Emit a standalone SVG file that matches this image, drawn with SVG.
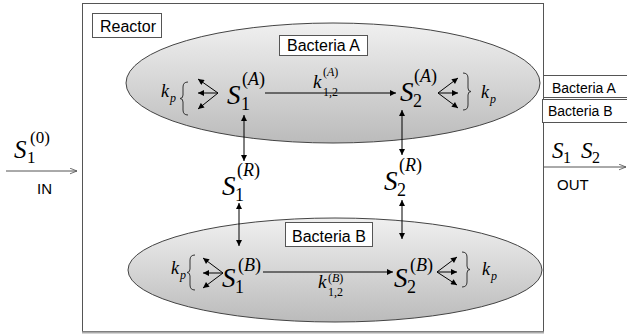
<svg xmlns="http://www.w3.org/2000/svg" width="627" height="336" viewBox="0 0 627 336">
<defs>
<linearGradient id="g" x1="0" y1="0" x2="0" y2="1">
<stop offset="0" stop-color="#f0f0f0"/>
<stop offset="1" stop-color="#bbbbbb"/>
</linearGradient>
<marker id="ah" viewBox="0 0 10 10" refX="10" refY="5" markerWidth="7" markerHeight="6" orient="auto-start-reverse" markerUnits="userSpaceOnUse">
<path d="M0,0 L10,5 L0,10 z" fill="#000"/>
</marker>
<marker id="oh" viewBox="0 0 10 10" refX="10" refY="5" markerWidth="8" markerHeight="7" orient="auto" markerUnits="userSpaceOnUse">
<path d="M0,1 L10,5 L0,9" fill="none" stroke="#555" stroke-width="1.2"/>
</marker>
</defs>
<style>
.lbl{font-family:"Liberation Sans",Arial,sans-serif;fill:#000}
.m{font-family:"Liberation Serif","Times New Roman",serif;font-style:italic;fill:#000}
.u{font-family:"Liberation Serif","Times New Roman",serif;font-style:normal;fill:#000}
.box{fill:#fff;stroke:#555;stroke-width:1}
.ell{fill:url(#g);stroke:#444;stroke-width:1}
.ar{stroke:#000;stroke-width:1;fill:none;marker-end:url(#ah)}
.dar{stroke:#000;stroke-width:1;fill:none;marker-end:url(#ah);marker-start:url(#ah)}
.br{fill:none;stroke:#333;stroke-width:1}
.io{stroke:#555;stroke-width:1;fill:none;marker-end:url(#oh)}
.S{font-size:27px}
.sb{font-size:18px}
.sp{font-size:18px}
</style>
<g id="reactor">
<rect x="82.5" y="3.5" width="461" height="328" fill="#fff" stroke="#555" stroke-width="1"/>
<line x1="82" y1="332.5" x2="544" y2="332.5" stroke="#aaa" stroke-width="2"/>
<rect class="box" x="92.5" y="13.5" width="69" height="24"/>
<text class="lbl" x="100" y="32" font-size="16">Reactor</text>
</g>
<g id="bacteriaA">
<ellipse class="ell" cx="333" cy="83" rx="207" ry="60"/>
<rect class="box" x="279.5" y="35.5" width="88" height="20"/>
<text class="lbl" x="287" y="50.5" font-size="16">Bacteria A</text>
</g>
<g id="bacteriaB">
<ellipse class="ell" cx="335" cy="270" rx="207" ry="52"/>
<rect class="box" x="285.5" y="222.5" width="87" height="24"/>
<text class="lbl" x="292" y="241.5" font-size="16">Bacteria B</text>
</g>
<g id="outLabels">
<path d="M543.5,75.5 H627 M543.5,97.5 H627" stroke="#555" fill="none"/>
<text class="lbl" x="552" y="93" font-size="14">Bacteria A</text>
<rect class="box" x="542.5" y="99.5" width="90" height="23"/>
<text class="lbl" x="548" y="116" font-size="14">Bacteria B</text>
</g>
<g id="connectors">
<line class="io" x1="6" y1="171" x2="77" y2="171"/>
<line class="io" x1="544" y1="167" x2="626" y2="167"/>
<line class="ar" x1="265" y1="93" x2="396" y2="93"/>
<line class="ar" x1="263" y1="272" x2="393" y2="272"/>
<line class="dar" x1="244" y1="115" x2="244" y2="161"/>
<line class="dar" x1="239" y1="203" x2="239" y2="246"/>
<line class="dar" x1="402" y1="110" x2="402" y2="155"/>
<line class="dar" x1="402" y1="200" x2="402" y2="239"/>
<line class="ar" x1="218" y1="93" x2="198" y2="79"/>
<line class="ar" x1="218" y1="93" x2="198" y2="93"/>
<line class="ar" x1="218" y1="93" x2="198" y2="109"/>
<line class="ar" x1="438" y1="93" x2="458" y2="78"/>
<line class="ar" x1="438" y1="93" x2="458" y2="93"/>
<line class="ar" x1="438" y1="93" x2="458" y2="108"/>
<line class="ar" x1="223" y1="273" x2="203" y2="258"/>
<line class="ar" x1="223" y1="273" x2="203" y2="273"/>
<line class="ar" x1="223" y1="273" x2="203" y2="288"/>
<line class="ar" x1="437" y1="272" x2="457" y2="257"/>
<line class="ar" x1="437" y1="272" x2="457" y2="272"/>
<line class="ar" x1="437" y1="272" x2="457" y2="285"/>
<path class="br" d="M188,82 Q183,82 183,87 L183,95 Q183,98.5 180,98.5 Q183,98.5 183,102 L183,110 Q183,115 188,115"/>
<path class="br" d="M463,73 Q468,73 468,78 L468,88 Q468,91.5 471,91.5 Q468,91.5 468,95 L468,105 Q468,110 463,110"/>
<path class="br" d="M195,255 Q190,255 190,260 L190,269 Q190,272.5 187,272.5 Q190,272.5 190,276 L190,285 Q190,290 195,290"/>
<path class="br" d="M462,252 Q467,252 467,257 L467,266 Q467,269.5 470,269.5 Q467,269.5 467,273 L467,282 Q467,287 462,287"/>
</g>
<g id="inLabel">
<text class="m" x="14" y="158" font-size="25">S</text>
<text class="u" x="27" y="163" font-size="17">1</text>
<text class="u" x="30" y="143" font-size="17">(0)</text>
<text class="lbl" x="37" y="194" font-size="15">IN</text>
</g>
<g id="outS">
<text class="m" x="552" y="158" font-size="23">S</text>
<text class="u" x="563" y="163" font-size="16">1</text>
<text class="m" x="581" y="158" font-size="23">S</text>
<text class="u" x="592" y="163" font-size="16">2</text>
<text class="lbl" x="557" y="190" font-size="15">OUT</text>
</g>
<g id="S1A">
<text class="m S" x="227" y="104">S</text>
<text class="u sb" x="241" y="110">1</text>
<text class="u sp" x="242" y="85">(<tspan class="m">A</tspan>)</text>
</g>
<g id="S2A">
<text class="m S" x="400" y="101">S</text>
<text class="u sb" x="413" y="107">2</text>
<text class="u sp" x="414" y="82">(<tspan class="m">A</tspan>)</text>
</g>
<g id="S1R">
<text class="m S" x="222" y="195">S</text>
<text class="u sb" x="235" y="201">1</text>
<text class="u sp" x="237" y="176">(<tspan class="m">R</tspan>)</text>
</g>
<g id="S2R">
<text class="m S" x="384" y="190">S</text>
<text class="u sb" x="397" y="196">2</text>
<text class="u sp" x="399" y="171">(<tspan class="m">R</tspan>)</text>
</g>
<g id="S1B">
<text class="m S" x="222" y="287">S</text>
<text class="u sb" x="235" y="293">1</text>
<text class="u sp" x="238" y="271">(<tspan class="m">B</tspan>)</text>
</g>
<g id="S2B">
<text class="m S" x="394" y="287">S</text>
<text class="u sb" x="407" y="293">2</text>
<text class="u sp" x="410" y="271">(<tspan class="m">B</tspan>)</text>
</g>
<g id="kpA1">
<text class="m" x="161" y="97" font-size="18">k</text>
<text class="m" x="170" y="102" font-size="12">p</text>
</g>
<g id="kpA2">
<text class="m" x="481" y="98" font-size="18">k</text>
<text class="m" x="490" y="103" font-size="12">p</text>
</g>
<g id="kpB1">
<text class="m" x="171" y="274" font-size="18">k</text>
<text class="m" x="180" y="279" font-size="12">p</text>
</g>
<g id="kpB2">
<text class="m" x="482" y="275" font-size="18">k</text>
<text class="m" x="491" y="280" font-size="12">p</text>
</g>
<g id="k12A">
<text class="m" x="313" y="88" font-size="19">k</text>
<text class="u" x="323" y="96" font-size="12">1,2</text>
<text class="u" x="323" y="76" font-size="12">(<tspan class="m">A</tspan>)</text>
</g>
<g id="k12B">
<text class="m" x="318" y="288" font-size="19">k</text>
<text class="u" x="328" y="296" font-size="12">1,2</text>
<text class="u" x="328" y="282" font-size="12">(<tspan class="m">B</tspan>)</text>
</g>
</svg>
